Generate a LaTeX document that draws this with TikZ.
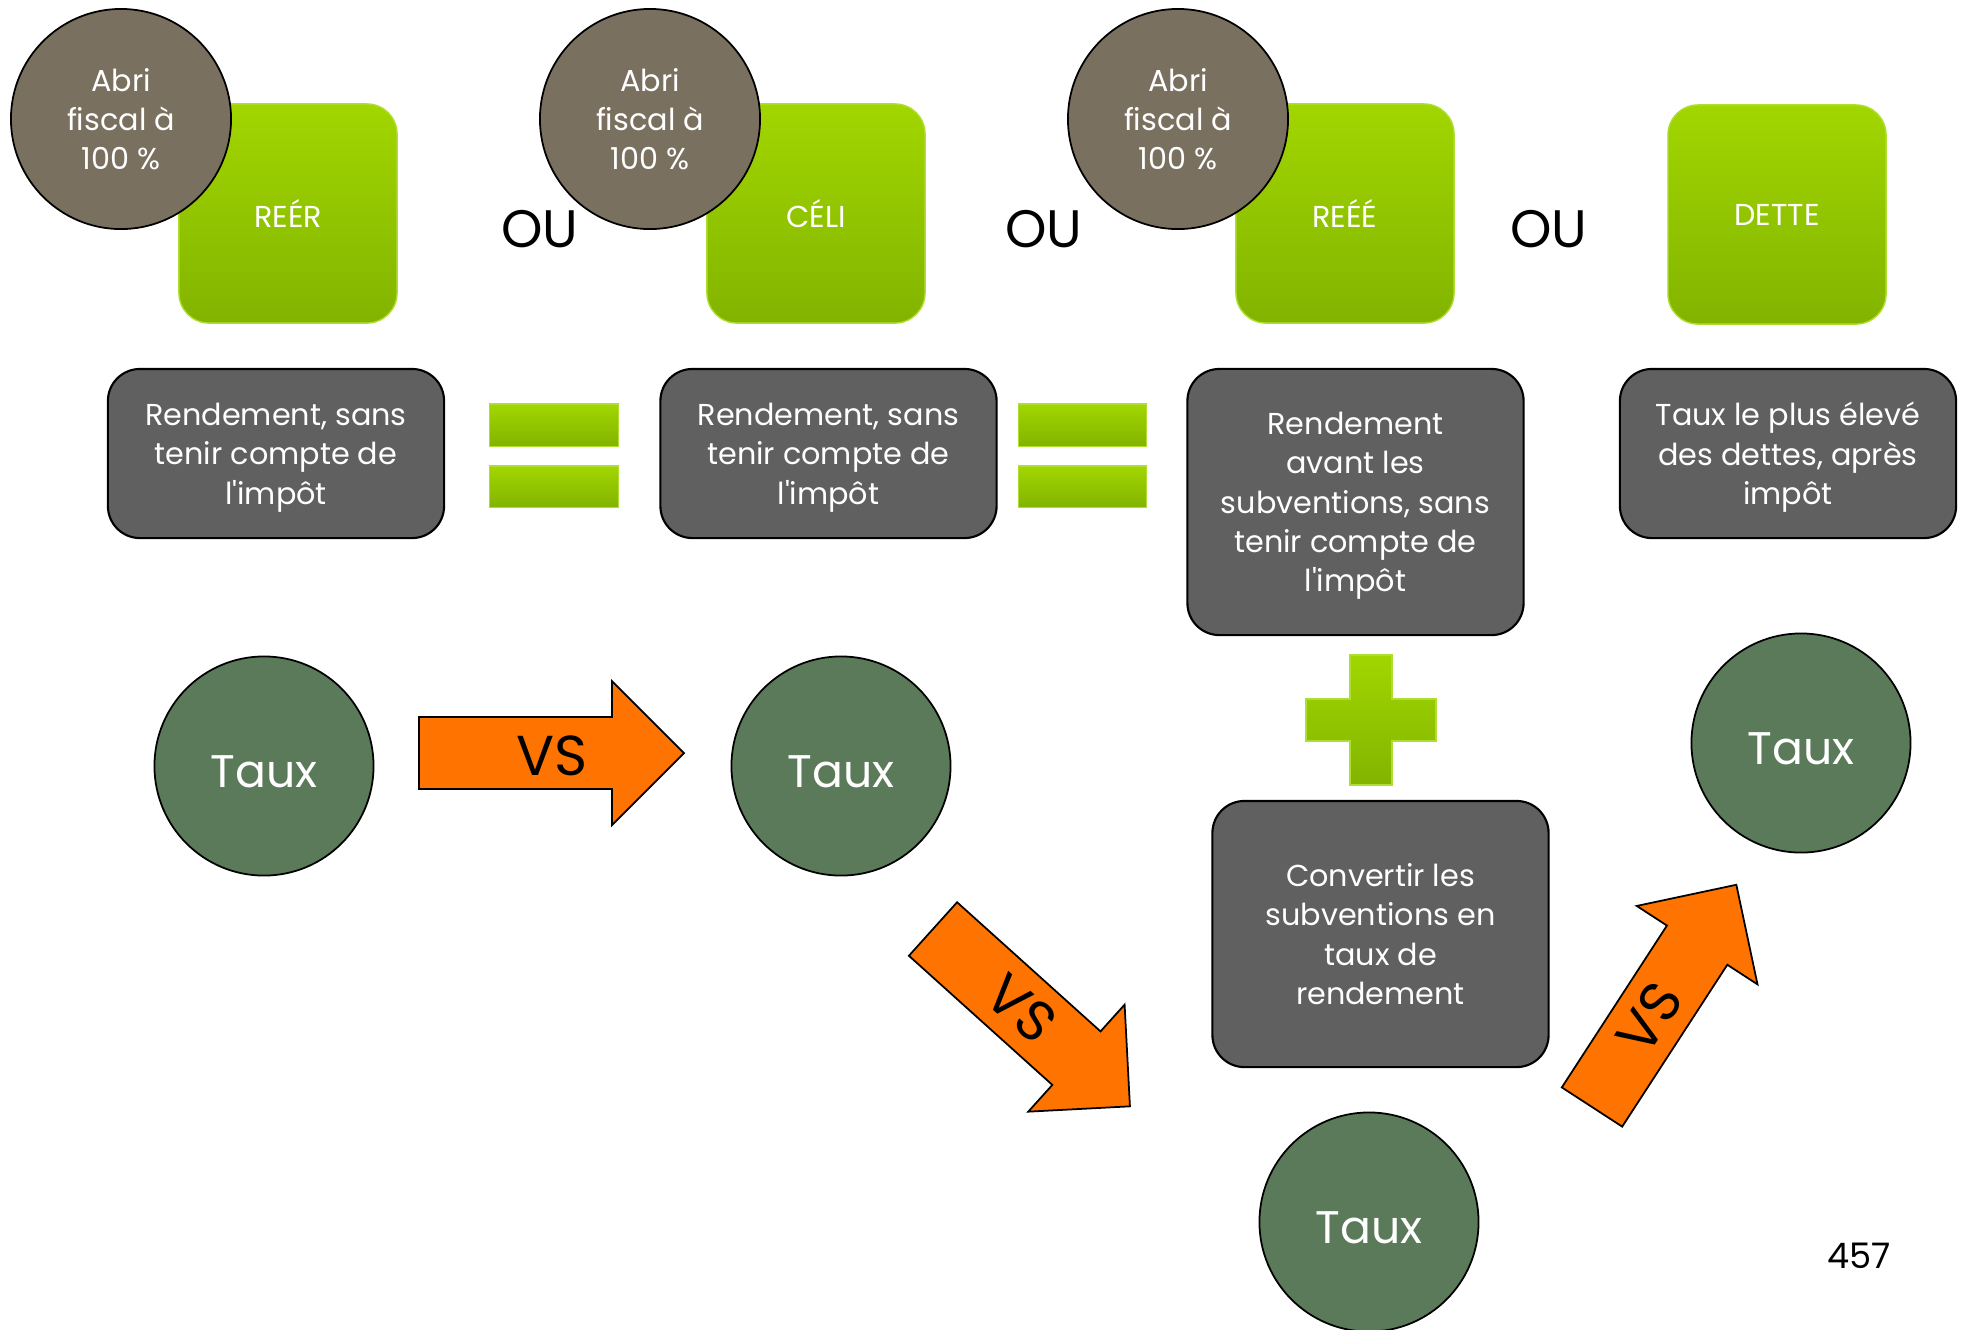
\documentclass[tikz,border=0pt]{standalone}
\usepackage{fontspec}
\setmainfont{Poppins}
\definecolor{abrigris}{RGB}{122,112,96}
\definecolor{verthaut}{RGB}{162,214,0}
\definecolor{vertbas}{RGB}{130,180,0}
\definecolor{vertbord}{RGB}{175,222,50}
\definecolor{boitegris}{RGB}{96,96,96}
\definecolor{tauxvert}{RGB}{90,122,90}
\definecolor{orangevs}{RGB}{255,115,0}
\begin{document}
\begin{tikzpicture}[x=0.01cm, y=-0.01cm,
  every node/.style={align=center, text=white},
  abri/.style={circle, draw=black, line width=0.5pt, fill=abrigris, minimum size=2.2cm, inner sep=0pt, text depth=0pt, font=\fontsize{8.6}{11.2}\selectfont},
  regime/.style={draw=vertbord, line width=0.4pt, top color=verthaut, bottom color=vertbas, rounded corners=0.3cm, minimum width=2.18cm, minimum height=2.19cm, font=\fontsize{8.6}{11.2}\selectfont},
  rbox/.style={draw=black, line width=0.6pt, fill=boitegris, rounded corners=0.32cm, minimum width=3.36cm, text depth=0pt, font=\fontsize{8.6}{11.2}\selectfont},
  taux/.style={circle, draw=black, line width=0.5pt, fill=tauxvert, minimum size=2.19cm, inner sep=0pt, text height=12.3pt, text depth=0pt, font=\fontsize{13}{15}\selectfont},
  ou/.style={text=black, font=\fontsize{15}{18}\selectfont},
  barre/.style={draw=vertbord, line width=0.3pt, top color=verthaut, bottom color=vertbas, minimum width=1.28cm, inner sep=0pt},
  vs/.style={draw=black, line width=0.5pt, fill=orangevs},
  vstxt/.style={text=black, inner sep=0pt, font=\fontsize{16}{18}\selectfont}]
\useasboundingbox (0,0) rectangle (1963,1329);
% Placements (squares under the circles)
\node[regime] (s1) at (288,213.5) {REÉR};
\node[regime] (s2) at (816,213.5) {CÉLI};
\node[regime] (s3) at (1345,213.5) {REÉÉ};
\node[regime] (s4) at (1777,214.5) {DETTE};
\node[abri] (c1) at (121,119) {Abri\\fiscal à\\100 \%};
\node[abri] (c2) at (650,119) {Abri\\fiscal à\\100 \%};
\node[abri] (c3) at (1178,119) {Abri\\fiscal à\\100 \%};
\node[ou] (ou1) at (540,229) {OU};
\node[ou] (ou2) at (1044,229) {OU};
\node[ou] (ou3) at (1549,229) {OU};
% Rendements
\node[rbox, minimum height=1.69cm] (r1) at (276,453.5) {Rendement, sans\\tenir compte de\\l\textquotesingle impôt};
\node[rbox, minimum height=1.69cm] (r2) at (828.5,453.5) {Rendement, sans\\tenir compte de\\l\textquotesingle impôt};
\node[rbox, minimum height=2.66cm] (r3) at (1355.5,502) {Rendement\\avant les\\subventions, sans\\tenir compte de\\l\textquotesingle impôt};
\node[rbox, minimum height=1.69cm] (r4) at (1788,453.5) {Taux le plus élevé\\des dettes, après\\impôt};
\node[rbox, minimum height=2.66cm] (r5) at (1380.5,934) {Convertir les\\subventions en\\taux de\\rendement};
% Signes = et +
\node[barre, minimum height=0.42cm] (e1h) at (554,425) {};
\node[barre, minimum height=0.41cm] (e1b) at (554,486.5) {};
\node[barre, minimum height=0.42cm] (e2h) at (1082.5,425) {};
\node[barre, minimum height=0.41cm] (e2b) at (1082.5,486.5) {};
\shade[top color=verthaut, bottom color=vertbas, draw=vertbord, line width=0.3pt] (1350,655) -- (1392,655) -- (1392,699) -- (1436,699) -- (1436,741) -- (1392,741) -- (1392,785) -- (1350,785) -- (1350,741) -- (1306,741) -- (1306,699) -- (1350,699) -- cycle;
% Fleches VS
\begin{scope}[shift={(419,753)}]
\draw[vs] (0,-36) -- (193,-36) -- (193,-72) -- (265,0) -- (193,72) -- (193,36) -- (0,36) -- cycle;
\node[vstxt] (vs1) at (133,3) {VS};
\end{scope}
\begin{scope}[shift={(933,929)}, rotate=-42]
\draw[vs] (0,-36) -- (193,-36) -- (193,-72) -- (265,0) -- (193,72) -- (193,36) -- (0,36) -- cycle;
\node[vstxt, rotate=-42] (vs2) at (119,0) {VS};
\end{scope}
\begin{scope}[shift={(1592,1107)}, rotate=57]
\draw[vs] (0,-36) -- (193,-36) -- (193,-72) -- (265,0) -- (193,72) -- (193,36) -- (0,36) -- cycle;
\node[vstxt, rotate=57] (vs3) at (106,0) {VS};
\end{scope}
% Taux
\node[taux] (t1) at (264,766) {Taux};
\node[taux] (t2) at (841,766) {Taux};
\node[taux] (t3) at (1369,1222) {Taux};
\node[taux] (t4) at (1801,743) {Taux};
\node[text=black, font=\fontsize{10}{12}\selectfont] (page) at (1859,1256) {457};
\end{tikzpicture}
\end{document}
